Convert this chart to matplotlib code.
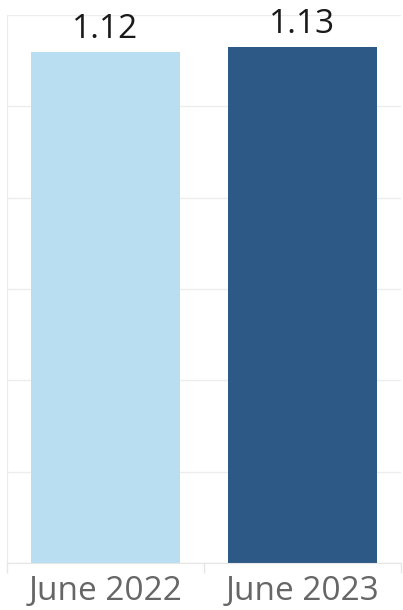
import matplotlib
matplotlib.use("Agg")
import matplotlib.pyplot as plt
from matplotlib.ticker import FixedLocator

categories = ["June 2022", "June 2023"]
values = [1.12, 1.13]
labels = ["1.12", "1.13"]
colors = ["#B9DDF1", "#2C5985"]

W, H = 403, 610
fig = plt.figure(figsize=(W / 100, H / 100), dpi=100)
ax = fig.add_axes([7 / W, (H - 563) / H, (401 - 7) / W, (563 - 15) / H])

x = list(range(len(categories)))
ax.bar(x, values, width=0.756, color=colors, zorder=2)
ax.set_xlim(-0.5, 1.5)
ax.set_ylim(0, 1.2)

for xi, v, lab in zip(x, values, labels):
    ax.annotate(lab, (xi, v), xytext=(0, 10), textcoords="offset points",
                ha="center", va="baseline", fontsize=24, color="#1a1a1a",
                family="Open Sans", fontweight="medium", annotation_clip=False)

ax.set_yticks([0.2 * i for i in range(7)])
ax.yaxis.grid(True, color="#EDEDED", linewidth=1, zorder=0)
ax.tick_params(axis="y", length=0, labelleft=False)

ax.set_xticks(x)
ax.set_xticklabels(categories, fontsize=24, color="#666666", family="Open Sans",
                   fontweight="medium")
ax.tick_params(axis="x", which="major", length=0, pad=9)
ax.xaxis.set_minor_locator(FixedLocator([-0.5, 0.5, 1.5]))
ax.tick_params(axis="x", which="minor", length=7, color="#E6E6E6", width=1)

for s in ["top", "right"]:
    ax.spines[s].set_visible(False)
ax.spines["left"].set_color("#EBEBEB")
ax.spines["bottom"].set_color("#E6E6E6")

fig.savefig("out.png", dpi=100)
